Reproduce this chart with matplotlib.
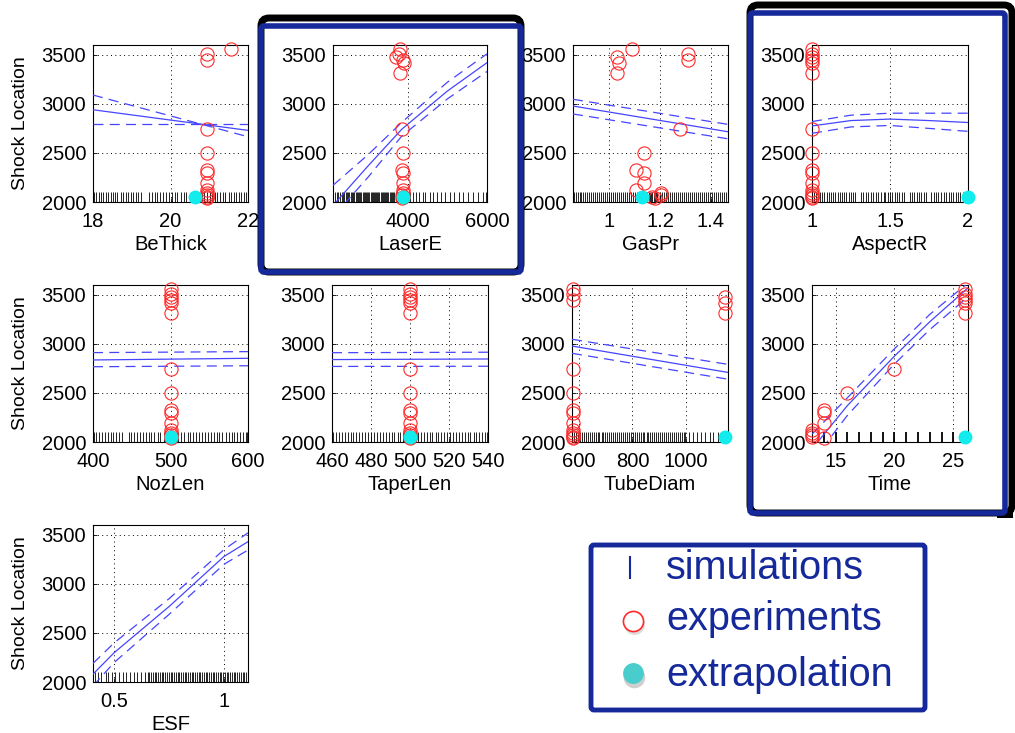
import matplotlib.pyplot as plt
from matplotlib.patches import FancyBboxPatch, Rectangle

plt.rcParams['font.family'] = ['Liberation Sans', 'DejaVu Sans']

# shock location of each experiment (same order in every panel)
exp_shock = [3560, 3505, 3475, 3450, 3420, 3310, 2740, 2500, 2330, 2295, 2195, 2120, 2095, 2075, 2050, 2040]

# experiment inputs
exp_bethick = [21.55, 20.95, 22.6, 20.95, 22.6, 22.6, 20.95, 20.95, 20.95, 20.95, 20.95, 20.95, 20.95, 20.95, 20.95, 20.95]
exp_laser = [3820, 3780, 3710, 3890, 3905, 3820, 3850, 3890, 3850, 3890, 3890, 3880, 3890, 3870, 3890, 3870]
exp_gaspr = [1.09, 1.31, 1.03, 1.31, 1.04, 1.03, 1.28, 1.135, 1.105, 1.135, 1.135, 1.105, 1.205, 1.205, 1.17, 1.18]
exp_aspect = [1, 1, 1, 1, 1, 1, 1, 1, 1, 1, 1, 1, 1, 1, 1, 1]
exp_nozlen = [500, 500, 500, 500, 500, 500, 500, 500, 500, 500, 500, 500, 500, 500, 500, 500]
exp_taperlen = [500, 500, 500, 500, 500, 500, 500, 500, 500, 500, 500, 500, 500, 500, 500, 500]
exp_tubediam = [577, 577, 1148, 577, 1148, 1148, 577, 577, 577, 577, 577, 577, 577, 577, 577, 577]
exp_time = [26, 26, 26, 26, 26, 26, 20, 16, 14, 14, 14, 13, 13, 13, 13, 14]

# extrapolation point
extrap_shock = 2050
extrap_bethick = 20.62
extrap_laser = 3890
extrap_gaspr = 1.128
extrap_aspect = 2.0
extrap_nozlen = 500
extrap_taperlen = 500
extrap_tubediam = 1148
extrap_time = 26.0

# simulation inputs (rug)
sim_bethick = [18.02, 18.08, 18.15, 18.21, 18.27, 18.33, 18.38, 18.46, 18.52, 18.58, 18.63, 18.71, 18.77,
               18.84, 18.9, 18.97, 19.03, 19.1, 19.16, 19.24, 19.45, 19.52, 19.6, 19.66, 19.74, 19.8,
               19.88, 19.95, 20.04, 20.12, 20.18, 20.27, 20.35, 20.41, 20.55, 20.66, 20.74, 20.8, 20.87,
               20.93, 21.01, 21.08, 21.14, 21.2, 21.29, 21.35, 21.41, 21.5, 21.57, 21.63, 21.7, 21.76,
               21.83, 21.89, 21.95]
sim_laser = [2180, 2230, 2260, 2300, 2340, 2370, 2400, 2440, 2470, 2500, 2530, 2570, 2600, 2630, 2660,
             2700, 2720, 2750, 2790, 2810, 2840, 2870, 2900, 2930, 2960, 2990, 3010, 3040, 3070, 3100,
             3120, 3150, 3180, 3210, 3240, 3260, 3290, 3320, 3350, 3380, 3400, 3430, 3460, 3490, 3520,
             3550, 3580, 3610, 3640, 3670, 3700, 3730, 3760, 3800, 3840, 3880, 3930, 3970, 4050, 4140,
             4210, 4290, 4380, 4450, 4560, 4640, 4730, 4850, 4950, 5060, 5170, 5290, 5400, 5530, 5650,
             5780, 5900, 5970]
sim_gaspr = [0.86, 0.868, 0.876, 0.883, 0.89, 0.897, 0.905, 0.913, 0.92, 0.928, 0.935, 0.944, 0.952,
             0.96, 0.968, 0.975, 0.983, 0.99, 0.998, 1.006, 1.014, 1.022, 1.03, 1.038, 1.046, 1.054,
             1.062, 1.07, 1.078, 1.087, 1.095, 1.103, 1.11, 1.118, 1.126, 1.134, 1.142, 1.15, 1.155,
             1.16, 1.165, 1.17, 1.175, 1.18, 1.185, 1.19, 1.198, 1.206, 1.214, 1.222, 1.23, 1.238,
             1.246, 1.254, 1.262, 1.27, 1.278, 1.286, 1.294, 1.302, 1.31, 1.318, 1.326, 1.334, 1.342,
             1.35, 1.358, 1.366, 1.374, 1.382, 1.39, 1.398, 1.406, 1.414, 1.422, 1.43, 1.438, 1.446,
             1.454, 1.462]
sim_aspect = [1.01, 1.025, 1.04, 1.05, 1.065, 1.08, 1.095, 1.11, 1.12, 1.135, 1.15, 1.165, 1.18, 1.19,
              1.205, 1.22, 1.235, 1.25, 1.26, 1.275, 1.315, 1.33, 1.345, 1.36, 1.375, 1.39, 1.41, 1.425,
              1.44, 1.46, 1.47, 1.485, 1.5, 1.515, 1.53, 1.545, 1.56, 1.575, 1.59, 1.625, 1.64, 1.655,
              1.67, 1.685, 1.7, 1.715, 1.73, 1.765, 1.78, 1.795, 1.81, 1.83, 1.845, 1.86, 1.875, 1.89,
              1.905, 1.92, 1.935, 1.95, 1.965, 1.98, 1.995]
sim_nozlen = [401, 404, 408, 412, 415, 419, 423, 426, 430, 434, 437, 446, 449, 453, 457, 460, 464, 468,
              472, 475, 479, 484, 487, 491, 495, 499, 503, 506, 510, 514, 518, 522, 525, 529, 533, 537,
              541, 544, 548, 552, 556, 560, 563, 567, 571, 575, 579, 582, 586, 590, 594, 597, 599]
sim_taperlen = [460.5, 462, 463.5, 465, 466.8, 468, 469.6, 471, 472.5, 474, 475.6, 477, 478.5, 480.2,
                481.5, 483, 484.6, 486, 487.5, 489, 490.7, 492, 493.6, 495, 496.5, 498.2, 499.6, 501,
                502.5, 504, 505.6, 507, 508.6, 510, 511.5, 513.2, 514.6, 516, 517.5, 519, 520.6, 522,
                523.5, 525, 526.6, 528, 529.5, 531, 532.6, 534, 535.5, 537, 538.5, 539.6]
sim_tubediam = [582, 589, 596, 603, 611, 618, 625, 632, 640, 647, 654, 662, 669, 676, 684, 691, 698, 706,
                713, 720, 728, 735, 743, 750, 757, 765, 772, 779, 787, 794, 801, 809, 816, 823, 831, 838,
                845, 853, 860, 867, 875, 882, 889, 897, 904, 911, 919, 926, 933, 941, 948, 955, 963, 970,
                977, 985, 992, 999, 1012, 1028, 1041, 1058, 1072, 1090, 1104, 1121, 1136]
sim_time = [13, 14, 15, 16, 17, 18, 19, 20, 21, 22, 23, 24, 25, 26]
sim_esf = [0.41, 0.425, 0.44, 0.46, 0.47, 0.49, 0.505, 0.52, 0.54, 0.555, 0.57, 0.59, 0.605, 0.62, 0.64,
           0.652, 0.66, 0.668, 0.676, 0.684, 0.692, 0.7, 0.708, 0.716, 0.724, 0.732, 0.74, 0.748, 0.756,
           0.764, 0.772, 0.78, 0.788, 0.796, 0.804, 0.812, 0.82, 0.828, 0.836, 0.844, 0.852, 0.86, 0.868,
           0.876, 0.884, 0.892, 0.9, 0.908, 0.916, 0.924, 0.932, 0.94, 0.948, 0.956, 0.964, 0.972, 0.98,
           0.988, 0.996, 1.004, 1.012, 1.02, 1.028, 1.036, 1.044, 1.052, 1.06, 1.068, 1.076, 1.084,
           1.092, 1.1]

# fitted main effect with confidence band
fitx_bethick = [18, 22]
fit_bethick = [2940, 2730]
up_bethick = [3090, 2665]
lo_bethick = [2795, 2795]

fitx_laser = [2123, 3000, 3850, 5000, 6000]
fit_laser = [1965, 2365, 2740, 3130, 3420]
up_laser = [2170, 2480, 2810, 3220, 3510]
lo_laser = [1850, 2250, 2670, 3050, 3330]

fitx_gaspr = [0.857, 1.468]
fit_gaspr = [2978, 2716]
up_gaspr = [3047, 2791]
lo_gaspr = [2897, 2644]

fitx_aspect = [1, 1.25, 1.5, 1.75, 2]
fit_aspect = [2775, 2830, 2845, 2830, 2810]
up_aspect = [2820, 2885, 2905, 2905, 2905]
lo_aspect = [2700, 2765, 2780, 2750, 2720]

fitx_nozlen = [400, 600]
fit_nozlen = [2836, 2853]
up_nozlen = [2911, 2921]
lo_nozlen = [2767, 2777]

fitx_taperlen = [460, 540]
fit_taperlen = [2840, 2846]
up_taperlen = [2910, 2915]
lo_taperlen = [2770, 2772]

fitx_tubediam = [573, 1159]
fit_tubediam = [2978, 2709]
up_tubediam = [3047, 2791]
lo_tubediam = [2904, 2640]

fitx_time = [13, 16, 20, 23, 26.25]
fit_time = [1930, 2370, 2875, 3225, 3570]
up_time = [2080, 2450, 2950, 3300, 3620]
lo_time = [1800, 2270, 2795, 3145, 3480]

fitx_esf = [0.403, 0.5, 0.75, 1.0, 1.109]
fit_esf = [2080, 2300, 2770, 3280, 3430]
up_esf = [2190, 2400, 2850, 3350, 3520]
lo_esf = [1960, 2200, 2690, 3200, 3345]

panels = [
    dict(name='BeThick', box=(93, 45, 248, 202), xlim=(18, 22), xticks=[18, 20, 22],
         sim=sim_bethick, ex=exp_bethick, xp=extrap_bethick,
         fx=fitx_bethick, fit=fit_bethick, up=up_bethick, lo=lo_bethick, ylab=True),
    dict(name='LaserE', box=(333, 45, 487, 202), xlim=(2123, 6000), xticks=[4000, 6000],
         sim=sim_laser, ex=exp_laser, xp=extrap_laser,
         fx=fitx_laser, fit=fit_laser, up=up_laser, lo=lo_laser, ylab=False),
    dict(name='GasPr', box=(573, 45, 728, 202), xlim=(0.857, 1.468), xticks=[1, 1.2, 1.4],
         sim=sim_gaspr, ex=exp_gaspr, xp=extrap_gaspr,
         fx=fitx_gaspr, fit=fit_gaspr, up=up_gaspr, lo=lo_gaspr, ylab=False),
    dict(name='AspectR', box=(812, 45, 968, 202), xlim=(1, 2), xticks=[1, 1.5, 2],
         sim=sim_aspect, ex=exp_aspect, xp=extrap_aspect,
         fx=fitx_aspect, fit=fit_aspect, up=up_aspect, lo=lo_aspect, ylab=False),
    dict(name='NozLen', box=(93, 285, 248, 442), xlim=(400, 600), xticks=[400, 500, 600],
         sim=sim_nozlen, ex=exp_nozlen, xp=extrap_nozlen,
         fx=fitx_nozlen, fit=fit_nozlen, up=up_nozlen, lo=lo_nozlen, ylab=True),
    dict(name='TaperLen', box=(332, 285, 488, 442), xlim=(460, 540), xticks=[460, 480, 500, 520, 540],
         sim=sim_taperlen, ex=exp_taperlen, xp=extrap_taperlen,
         fx=fitx_taperlen, fit=fit_taperlen, up=up_taperlen, lo=lo_taperlen, ylab=False),
    dict(name='TubeDiam', box=(572, 285, 728, 442), xlim=(573, 1159), xticks=[600, 800, 1000],
         sim=sim_tubediam, ex=exp_tubediam, xp=extrap_tubediam,
         fx=fitx_tubediam, fit=fit_tubediam, up=up_tubediam, lo=lo_tubediam, ylab=False),
    dict(name='Time', box=(812, 285, 968, 442), xlim=(13, 26.25), xticks=[15, 20, 25],
         sim=sim_time, ex=exp_time, xp=extrap_time,
         fx=fitx_time, fit=fit_time, up=up_time, lo=lo_time, ylab=False),
    dict(name='ESF', box=(93, 525, 248, 682), xlim=(0.403, 1.109), xticks=[0.5, 1],
         sim=sim_esf, ex=None, xp=None,
         fx=fitx_esf, fit=fit_esf, up=up_esf, lo=lo_esf, ylab=True),
]

W, H = 1015, 733
fig = plt.figure(figsize=(W / 100, H / 100), dpi=100)

blue = '#4545ff'
red = '#ff2a2a'
cyan = '#12ecec'
navy = '#15299a'

for p in panels:
    x0, y0, x1, y1 = p['box']
    ax = fig.add_axes([x0 / W, 1 - y1 / H, (x1 - x0) / W, (y1 - y0) / H])
    ax.set_xlim(*p['xlim'])
    ax.set_ylim(2000, 3600)
    ax.set_xticks(p['xticks'])
    ax.set_xticklabels([f'{t:g}' for t in p['xticks']])
    ax.set_yticks([2000, 2500, 3000, 3500])
    ax.grid(True, color='k', ls=(0, (1, 3.5)), lw=0.7)
    ax.set_axisbelow(True)
    ax.tick_params(direction='in', length=3, width=0.6, labelsize=14.5, pad=5)
    ax.tick_params(axis='x', pad=7)
    for s in ax.spines.values():
        s.set_linewidth(0.8)

    rug_lw = 1.3 if p['name'] == 'Time' else 0.6
    ax.vlines(p['sim'], 2000, 2100, colors='k', lw=rug_lw, zorder=2)

    ax.plot(p['fx'], p['fit'], color=blue, lw=0.9, zorder=3)
    ax.plot(p['fx'], p['up'], color=blue, lw=0.9, ls=(0, (8, 5)), zorder=3)
    ax.plot(p['fx'], p['lo'], color=blue, lw=0.9, ls=(0, (8, 5)), zorder=3)

    if p['ex'] is not None:
        lo_x, hi_x = p['xlim']
        pts = [(x, y) for x, y in zip(p['ex'], exp_shock) if lo_x - 1e-9 <= x <= hi_x + 1e-9]
        ax.plot([q[0] for q in pts], [q[1] for q in pts], 'o', mfc='none', mec=red,
                ms=9.5, mew=0.8, clip_on=False, zorder=4)
        ax.plot([p['xp']], [extrap_shock], 'o', color=cyan, ms=9, clip_on=False, zorder=5)

    ax.set_xlabel(p['name'], fontsize=14.5, labelpad=3)
    if p['ylab']:
        ax.set_ylabel('Shock Location', fontsize=14, labelpad=9)

# overlay in pixel coordinates for frames and legend
ov = fig.add_axes([0, 0, 1, 1], zorder=10)
ov.set_xlim(0, W)
ov.set_ylim(H, 0)
ov.axis('off')

# highlight frames (black edge peeking out behind the navy one)
ov.add_patch(FancyBboxPatch((261, 18), 260, 254, boxstyle='round,pad=0,rounding_size=8',
                            fc='none', ec='black', lw=5))
ov.add_patch(FancyBboxPatch((261, 26), 260, 246, boxstyle='round,pad=0,rounding_size=3',
                            fc='none', ec=navy, lw=4))
ov.add_patch(FancyBboxPatch((750, 5), 262, 508, boxstyle='round,pad=0,rounding_size=8',
                            fc='none', ec='black', lw=5))
ov.add_patch(Rectangle((997, 510), 16, 8, fc='black', ec='none'))
ov.add_patch(FancyBboxPatch((750, 13), 255, 500, boxstyle='round,pad=0,rounding_size=3',
                            fc='none', ec=navy, lw=4))

# legend
ov.add_patch(FancyBboxPatch((591, 545), 334, 165, boxstyle='round,pad=0,rounding_size=3',
                            fc='white', ec=navy, lw=3.5))
ov.plot([630, 630], [557, 578], color=navy, lw=1.5)
ov.plot([634], [624], 'o', color='#999999', alpha=0.35, ms=15, mew=0)
ov.plot([633], [621], 'o', mfc='white', mec=red, ms=14.5, mew=1.2)
ov.plot([634], [677], 'o', color='#888888', alpha=0.4, ms=15.5, mew=0)
ov.plot([633], [673], 'o', color='#48cdcc', ms=15, mew=0)
ov.text(666, 579, 'simulations', color=navy, fontsize=28.5, va='baseline')
ov.text(666, 630, 'experiments', color=navy, fontsize=28.5, va='baseline')
ov.text(666, 686, 'extrapolation', color=navy, fontsize=28.5, va='baseline')

fig.savefig('out.png', dpi=100)
